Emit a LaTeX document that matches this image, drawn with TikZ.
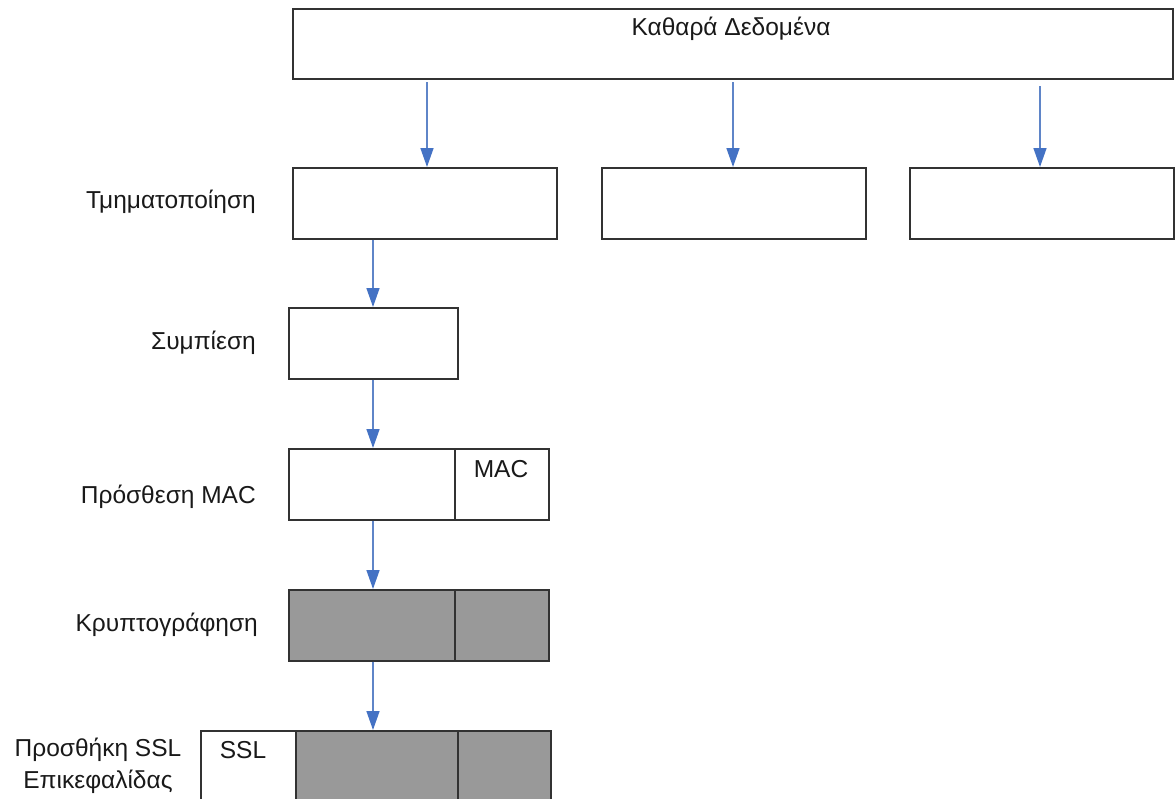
\documentclass[tikz,border=0pt]{standalone}
\usepackage{fontspec}
\setmainfont{Liberation Sans}
\usetikzlibrary{arrows.meta,calc}
\definecolor{flowblue}{RGB}{68,114,196}
\definecolor{flowline}{RGB}{95,133,200}
\definecolor{edgegray}{RGB}{50,50,50}
\definecolor{cipher}{RGB}{153,153,153}
\begin{document}
\begin{tikzpicture}[x=1pt,y=-1pt,
  blk/.style={draw=edgegray,line width=1.6pt,fill=white,inner sep=0pt,anchor=north west},
  encblk/.style={blk,fill=cipher},
  lbl/.style={font=\fontsize{24.5}{32}\selectfont,inner sep=0pt,text=black!90},
  flow/.style={draw=flowline,line width=1.5pt,
    -{Triangle[width=13pt,length=19pt,color=flowblue]}}]
\useasboundingbox (0,0) rectangle (1175,798);
\clip (0,0) rectangle (1175,798);
% plain data
\node[blk,minimum width=880pt,minimum height=70pt] (data) at (292,8) {};
\node[lbl] at (731,29) {Καθαρά Δεδομένα};
% fragmentation
\node[blk,minimum width=264pt,minimum height=71pt] (f1) at (292,167) {};
\node[blk,minimum width=264pt,minimum height=71pt] (f2) at (601,167) {};
\node[blk,minimum width=264pt,minimum height=71pt] (f3) at (909,167) {};
\node[lbl,anchor=east] (lfrag) at (256,202) {Τμηματοποίηση};
% compression
\node[blk,minimum width=169pt,minimum height=71pt] (comp) at (288,307) {};
\node[lbl,anchor=east] (lcomp) at (256,343) {Συμπίεση};
% MAC
\node[blk,minimum width=166pt,minimum height=71pt] (mdata) at (288,448) {};
\node[blk,minimum width=94pt,minimum height=71pt] (mmac) at (454,448) {};
\node[lbl] at (501,469) {MAC};
\node[lbl,anchor=east] (lmac) at (256,497) {Πρόσθεση MAC};
% encryption
\node[encblk,minimum width=166pt,minimum height=71pt] (edata) at (288,589) {};
\node[encblk,minimum width=94pt,minimum height=71pt] (emac) at (454,589) {};
\node[lbl,anchor=east] (lenc) at (258,625) {Κρυπτογράφηση};
% SSL header
\node[blk,minimum width=95pt,minimum height=90pt] (shdr) at (200,730) {};
\node[encblk,minimum width=162pt,minimum height=90pt] (sdata) at (295,730) {};
\node[encblk,minimum width=93pt,minimum height=90pt] (smac) at (457,730) {};
\node[lbl] at (243,750) {SSL};
\node[lbl,align=center] (lssl) at (98,766) {Προσθήκη SSL\\Επικεφαλίδας};
% flow arrows
\coordinate (d1) at (427,82);
\coordinate (d2) at (733,82);
\coordinate (d3) at (1040,86);
\coordinate (spine) at (373,0);
\draw[flow] (d1) -- (d1 |- f1.north);
\draw[flow] (d2) -- (d2 |- f2.north);
\draw[flow] (d3) -- (d3 |- f3.north);
\draw[flow] (f1.south -| spine) -- (comp.north -| spine);
\draw[flow] (comp.south -| spine) -- (mdata.north -| spine);
\draw[flow] (mdata.south -| spine) -- (edata.north -| spine);
\draw[flow] (edata.south -| spine) -- (sdata.north -| spine);
\end{tikzpicture}
\end{document}
